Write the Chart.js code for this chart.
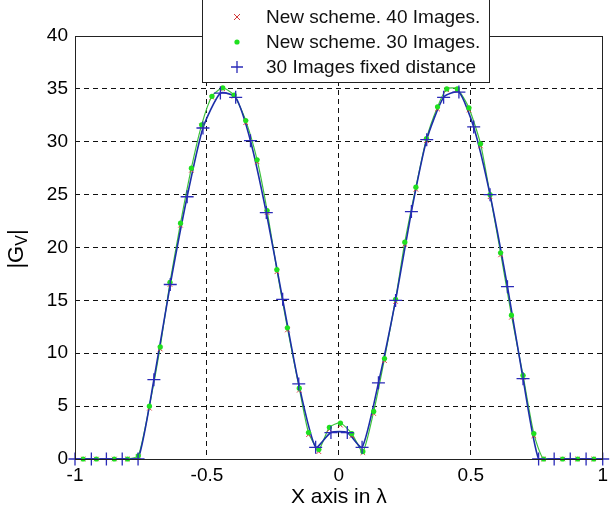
<!DOCTYPE html>
<html>
<head>
<meta charset="utf-8">
<script src="https://cdn.jsdelivr.net/npm/chart.js@4.4.1/dist/chart.umd.min.js"></script>
<style>
  html, body { margin: 0; padding: 0; background: #fff; }
  #wrap { width: 613px; height: 513px; }
</style>
</head>
<body>
<div id="wrap"><canvas id="chart" width="613" height="513"></canvas></div>
<script>
// tick labels
const xTickValues = [-1, -0.5, 0, 0.5, 1];
const xTickLabels = ['-1', '-0.5', '0', '0.5', '1'];
const yTickValues = [0, 5, 10, 15, 20, 25, 30, 35, 40];

const legendLabels = ['New scheme. 40 Images.', 'New scheme. 30 Images.', '30 Images fixed distance'];

// 30 Images fixed distance (blue +)
const fixedX = [-1.0, -0.938, -0.881, -0.821, -0.761, -0.701, -0.639, -0.575, -0.515, -0.449, -0.391,
  -0.335, -0.275, -0.213, -0.152, -0.088, -0.030, 0.032, 0.088, 0.150, 0.215, 0.275, 0.333,
  0.397, 0.455, 0.511, 0.573, 0.639, 0.698, 0.757, 0.816, 0.877, 0.937, 1.0];
const fixedY = [0, 0, 0, 0, 0, 7.5, 16.5, 24.8, 31.3, 34.6, 34.2,
  30.1, 23.3, 15.1, 7.1, 1.1, 2.5, 2.5, 1.1, 7.2, 15.0, 23.4, 30.2,
  34.2, 34.7, 31.4, 25.0, 16.3, 7.6, 0, 0, 0, 0, 0];

// New scheme, 30 images (green dots)
const new30X = [-0.969, -0.919, -0.851, -0.801, -0.760, -0.718, -0.677, -0.640, -0.600, -0.559, -0.520,
  -0.481, -0.440, -0.397, -0.353, -0.310, -0.272, -0.235, -0.195, -0.150, -0.115, -0.076, -0.036,
  0.006, 0.049, 0.091, 0.132, 0.173, 0.215, 0.250, 0.292, 0.332, 0.374, 0.409, 0.449, 0.493,
  0.537, 0.573, 0.613, 0.654, 0.698, 0.739, 0.776, 0.848, 0.905, 0.966];
const new30Y = [0, 0, 0, 0, 0.3, 5.0, 10.6, 16.7, 22.3, 27.5, 31.6,
  34.3, 35.1, 34.4, 32.0, 28.3, 23.5, 17.9, 12.4, 6.7, 2.5, 0.9, 3.0,
  3.4, 2.4, 0.7, 4.5, 9.5, 15.1, 20.5, 25.7, 30.3, 33.3, 35.0, 35.0, 33.2,
  29.8, 25.0, 19.5, 13.6, 7.9, 2.4, 0, 0, 0, 0];

// New scheme, 40 images (red x)
const new40X = [-0.969, -0.919, -0.851, -0.801, -0.760, -0.718, -0.677, -0.640, -0.600, -0.559, -0.520,
  -0.481, -0.440, -0.397, -0.353, -0.310, -0.272, -0.235, -0.195, -0.150, -0.115, -0.076, -0.036,
  0.006, 0.049, 0.091, 0.132, 0.173, 0.215, 0.250, 0.292, 0.332, 0.374, 0.409, 0.449, 0.493,
  0.537, 0.573, 0.613, 0.654, 0.698, 0.739, 0.776, 0.848, 0.905, 0.966];
const new40Y = [0, 0, 0, 0, 0.2, 4.8, 10.4, 16.5, 22.1, 27.3, 31.5,
  34.2, 35.0, 34.3, 31.8, 28.1, 23.3, 17.7, 12.2, 6.5, 2.3, 0.7, 2.8,
  3.2, 2.2, 0.6, 4.3, 9.3, 14.9, 20.3, 25.5, 30.1, 33.1, 34.9, 34.9, 33.0,
  29.6, 24.8, 19.3, 13.4, 7.7, 2.2, 0, 0, 0, 0];

const toPoints = (xs, ys) => xs.map((x, i) => ({ x: x, y: ys[i] }));

const FONT = "'Liberation Sans', Arial, sans-serif";

const frameAndLegend = {
  id: 'frameAndLegend',
  afterDraw(chart) {
    const ctx = chart.ctx;
    const a = chart.chartArea;
    ctx.save();
    // axes box
    ctx.strokeStyle = '#222';
    ctx.lineWidth = 1;
    ctx.strokeRect(Math.round(a.left) + 0.5, Math.round(a.top) + 0.5,
      Math.round(a.right - a.left) - 1, Math.round(a.bottom - a.top));

    // y axis title |G_V|
    ctx.fillStyle = '#000';
    ctx.translate(17, 249);
    ctx.rotate(-Math.PI / 2);
    ctx.textBaseline = 'middle';
    ctx.font = '22px ' + FONT;
    const w1 = ctx.measureText('|G').width;
    ctx.font = '16px ' + FONT;
    const w2 = ctx.measureText('V').width;
    ctx.font = '22px ' + FONT;
    const w3 = ctx.measureText('|').width;
    let x0 = -(w1 + w2 + w3) / 2;
    ctx.textAlign = 'left';
    ctx.fillText('|G', x0, 0);
    ctx.font = '16px ' + FONT;
    ctx.fillText('V', x0 + w1, 6);
    ctx.font = '22px ' + FONT;
    ctx.fillText('|', x0 + w1 + w2, 0);
    ctx.restore();

    // legend box
    ctx.save();
    ctx.fillStyle = '#fff';
    ctx.fillRect(202, -1, 287, 84);
    ctx.strokeStyle = '#222';
    ctx.lineWidth = 1;
    ctx.strokeRect(202.5, -1.5, 287, 84);
    const rows = [17, 42, 67];
    const mx = 237;
    // red x
    ctx.strokeStyle = '#d43a3a';
    ctx.lineWidth = 1;
    ctx.beginPath();
    ctx.moveTo(mx - 3, rows[0] - 3); ctx.lineTo(mx + 3, rows[0] + 3);
    ctx.moveTo(mx + 3, rows[0] - 3); ctx.lineTo(mx - 3, rows[0] + 3);
    ctx.stroke();
    // green dot
    ctx.fillStyle = '#1fe01f';
    ctx.beginPath();
    ctx.arc(mx, rows[1], 2.6, 0, Math.PI * 2);
    ctx.fill();
    // blue +
    ctx.strokeStyle = '#2a2ab8';
    ctx.lineWidth = 1.3;
    ctx.beginPath();
    ctx.moveTo(mx - 6, rows[2]); ctx.lineTo(mx + 6, rows[2]);
    ctx.moveTo(mx, rows[2] - 6); ctx.lineTo(mx, rows[2] + 6);
    ctx.stroke();
    ctx.fillStyle = '#111';
    ctx.font = '19px ' + FONT;
    ctx.textAlign = 'left';
    ctx.textBaseline = 'middle';
    legendLabels.forEach((t, i) => ctx.fillText(t, 266, rows[i] + 1));
    ctx.restore();
  }
};

new Chart(document.getElementById('chart'), {
  type: 'scatter',
  data: {
    datasets: [
      {
        label: legendLabels[0],
        data: toPoints(new40X, new40Y),
        showLine: false,
        pointStyle: 'crossRot',
        pointRadius: 3.2,
        borderColor: '#d43a3a',
        backgroundColor: '#d43a3a',
        pointBorderWidth: 1,
        order: 2,
        clip: false
      },
      {
        label: legendLabels[1],
        data: toPoints(new30X, new30Y),
        showLine: false,
        pointStyle: 'circle',
        pointRadius: 2.6,
        borderColor: '#1fe01f',
        backgroundColor: '#1fe01f',
        pointBorderWidth: 0,
        order: 1,
        clip: false
      },
      {
        label: legendLabels[2],
        data: toPoints(fixedX, fixedY),
        showLine: false,
        pointStyle: 'cross',
        pointRadius: 6.5,
        borderColor: '#2a2ab8',
        backgroundColor: '#2a2ab8',
        pointBorderWidth: 1.3,
        order: 0,
        clip: false
      },
      {
        label: 'fixed line',
        data: toPoints(fixedX, fixedY),
        showLine: true,
        pointRadius: 0,
        borderColor: '#1c2fa8',
        borderWidth: 1.6,
        tension: 0.2,
        order: 3
      },
      {
        label: 'new line',
        data: toPoints(new30X, new30Y),
        showLine: true,
        pointRadius: 0,
        borderColor: '#3ec23e',
        borderWidth: 1.2,
        tension: 0.2,
        order: 4
      }
    ]
  },
  options: {
    responsive: false,
    animation: false,
    devicePixelRatio: 1,
    layout: { padding: { top: 36, right: 2, left: 0, bottom: 0 } },
    plugins: {
      legend: { display: false },
      tooltip: { enabled: false }
    },
    scales: {
      x: {
        type: 'linear',
        min: -1,
        max: 1,
        afterBuildTicks: scale => { scale.ticks = xTickValues.map(v => ({ value: v })); },
        afterFit: scale => { scale.height = 54; },
        ticks: {
          callback: (value, index) => xTickLabels[index],
          color: '#000',
          font: { family: FONT, size: 19 },
          padding: 5,
          maxRotation: 0,
          autoSkip: false
        },
        grid: { color: '#111', lineWidth: 1, drawTicks: false },
        border: { display: false, dash: [5, 4] },
        title: {
          display: true,
          text: 'X axis in λ',
          color: '#000',
          font: { family: FONT, size: 21 },
          padding: { top: 0, bottom: 3 }
        }
      },
      y: {
        min: 0,
        max: 40,
        afterBuildTicks: scale => { scale.ticks = yTickValues.map(v => ({ value: v })); },
        afterFit: scale => { scale.width = 75; },
        ticks: {
          color: '#000',
          font: { family: FONT, size: 19 },
          padding: 7
        },
        grid: { color: '#111', lineWidth: 1, drawTicks: false },
        border: { display: false, dash: [5, 4] }
      }
    }
  },
  plugins: [frameAndLegend]
});
</script>
</body>
</html>
